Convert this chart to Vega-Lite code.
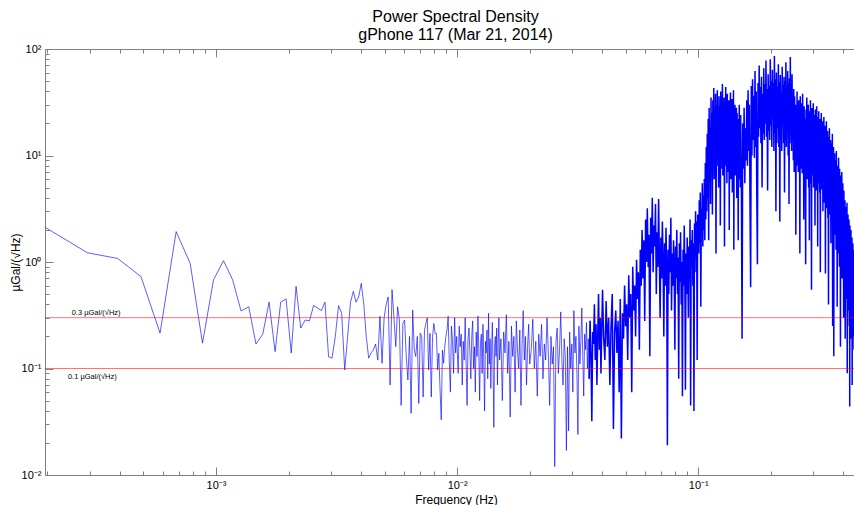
{
"$schema": "https://vega.github.io/schema/vega-lite/v6.json",
"autosize": {"type": "none"},
"padding": {"left": 45, "top": 49, "right": 0, "bottom": 30},
"width": 809,
"height": 426,
"background": "white",
"config": {"view": {"stroke": null}, "font": "Liberation Sans"},
"title": {"text": ["Power Spectral Density", "gPhone 117 (Mar 21, 2014)"], "fontSize": 16, "fontWeight": "normal", "font": "Liberation Sans", "color": "#000000", "lineHeight": 18, "offset": 0, "dx": 6, "anchor": "middle"},
"datasets": {
"psd": [
{"f":0.0001953,"a":2.12},{"f":0.000293,"a":1.22},{"f":0.0003906,"a":1.08},{"f":0.0004883,"a":0.73},{"f":0.000586,"a":0.215},{"f":0.0006836,"a":1.93},{"f":0.0007813,"a":0.97},{"f":0.000879,"a":0.173},{"f":0.0009766,"a":0.68},{"f":0.001074,"a":1.03},{"f":0.001172,"a":0.68},{"f":0.00127,"a":0.347},{"f":0.001367,"a":0.38},{"f":0.001465,"a":0.17},{"f":0.001563,"a":0.21},{"f":0.00166,"a":0.42},{"f":0.001758,"a":0.144},{"f":0.001855,"a":0.42},{"f":0.001953,"a":0.45},{"f":0.002051,"a":0.14},{"f":0.002148,"a":0.59},{"f":0.002246,"a":0.24},{"f":0.002344,"a":0.285},{"f":0.002441,"a":0.28},{"f":0.002539,"a":0.39},{"f":0.002637,"a":0.37},{"f":0.002734,"a":0.35},{"f":0.002832,"a":0.42},{"f":0.00293,"a":0.129},{"f":0.003027,"a":0.125},{"f":0.003125,"a":0.2},{"f":0.003223,"a":0.39},{"f":0.00332,"a":0.33},{"f":0.003418,"a":0.097},{"f":0.003516,"a":0.2},{"f":0.003613,"a":0.42},{"f":0.003711,"a":0.53},{"f":0.003809,"a":0.42},{"f":0.003906,"a":0.47},{"f":0.004004,"a":0.63},{"f":0.004102,"a":0.4},{"f":0.004199,"a":0.2},{"f":0.004297,"a":0.125},{"f":0.004395,"a":0.14},{"f":0.004492,"a":0.149},{"f":0.00459,"a":0.17},{"f":0.004688,"a":0.12},{"f":0.004785,"a":0.31},{"f":0.004883,"a":0.112},{"f":0.00498,"a":0.3},{"f":0.005078,"a":0.4},{"f":0.005176,"a":0.47},{"f":0.005273,"a":0.07},{"f":0.005371,"a":0.55},{"f":0.005469,"a":0.3},{"f":0.005566,"a":0.16},{"f":0.005664,"a":0.38},
{"f":0.005762,"a":0.285},{"f":0.005859,"a":0.045},{"f":0.005957,"a":0.265},{"f":0.006055,"a":0.285},{"f":0.006152,"a":0.13},{"f":0.00625,"a":0.078},{"f":0.006348,"a":0.2},{"f":0.006445,"a":0.038},{"f":0.006543,"a":0.354},{"f":0.006641,"a":0.15},{"f":0.006738,"a":0.13},{"f":0.006836,"a":0.2},{"f":0.006934,"a":0.047},{"f":0.007031,"a":0.214},{"f":0.007129,"a":0.2},{"f":0.007227,"a":0.054},{"f":0.007324,"a":0.23},{"f":0.007422,"a":0.265},{"f":0.00752,"a":0.3},{"f":0.007617,"a":0.097},{"f":0.007715,"a":0.214},{"f":0.007813,"a":0.054},{"f":0.00791,"a":0.2},{"f":0.008008,"a":0.265},{"f":0.008105,"a":0.214},{"f":0.008203,"a":0.214},{"f":0.008301,"a":0.097},{"f":0.008398,"a":0.139},{"f":0.008496,"a":0.063},{"f":0.008594,"a":0.033},{"f":0.008691,"a":0.149},{"f":0.008789,"a":0.112},{"f":0.008887,"a":0.16},{"f":0.008984,"a":0.2},{"f":0.009082,"a":0.23},{"f":0.00918,"a":0.31},{"f":0.009277,"a":0.12},{"f":0.009375,"a":0.06},{"f":0.009473,"a":0.25},{"f":0.00957,"a":0.18},{"f":0.009668,"a":0.09},{"f":0.009766,"a":0.3},{"f":0.009863,"a":0.14},{"f":0.009961,"a":0.2},
{"f":0.0101,"a":0.09},{"f":0.0102,"a":0.25},{"f":0.0103,"a":0.16},{"f":0.0104,"a":0.21},{"f":0.0105,"a":0.07},{"f":0.0106,"a":0.18},{"f":0.0107,"a":0.12},{"f":0.0108,"a":0.3},{"f":0.0109,"a":0.11},{"f":0.011,"a":0.045},{"f":0.0111,"a":0.19},{"f":0.0112,"a":0.24},{"f":0.0113,"a":0.14},{"f":0.0114,"a":0.08},{"f":0.0115,"a":0.2},{"f":0.0116,"a":0.28},{"f":0.0117,"a":0.1},{"f":0.0118,"a":0.16},{"f":0.0119,"a":0.06},{"f":0.012,"a":0.22},{"f":0.0121,"a":0.13},{"f":0.0122,"a":0.31},{"f":0.0123,"a":0.15},{"f":0.0124,"a":0.05},{"f":0.0125,"a":0.17},{"f":0.0126,"a":0.21},{"f":0.0127,"a":0.09},{"f":0.0128,"a":0.26},{"f":0.0129,"a":0.12},{"f":0.013,"a":0.04},{"f":0.0131,"a":0.18},{"f":0.0132,"a":0.14},{"f":0.0133,"a":0.23},{"f":0.0134,"a":0.08},{"f":0.0135,"a":0.33},{"f":0.0136,"a":0.11},{"f":0.0137,"a":0.19},{"f":0.0138,"a":0.065},{"f":0.0139,"a":0.15},{"f":0.014,"a":0.27},{"f":0.0141,"a":0.1},{"f":0.0142,"a":0.028},{"f":0.0143,"a":0.16},{"f":0.0144,"a":0.2},{"f":0.0145,"a":0.13},{"f":0.0146,"a":0.24},{"f":0.0147,"a":0.07},{"f":0.0148,"a":0.17},{"f":0.0149,"a":0.3},{"f":0.015,"a":0.12},
{"f":0.0152,"a":0.19},{"f":0.0154,"a":0.05},{"f":0.0156,"a":0.22},{"f":0.0158,"a":0.14},{"f":0.016,"a":0.32},{"f":0.0162,"a":0.09},{"f":0.0164,"a":0.18},{"f":0.0166,"a":0.035},{"f":0.0168,"a":0.25},{"f":0.017,"a":0.13},{"f":0.0172,"a":0.2},{"f":0.0174,"a":0.06},{"f":0.0176,"a":0.28},{"f":0.0178,"a":0.15},{"f":0.018,"a":0.1},{"f":0.0182,"a":0.23},{"f":0.0184,"a":0.045},{"f":0.0186,"a":0.17},{"f":0.0188,"a":0.35},{"f":0.019,"a":0.12},{"f":0.0192,"a":0.2},{"f":0.0194,"a":0.07},{"f":0.0196,"a":0.16},{"f":0.0198,"a":0.26},{"f":0.02,"a":0.11},
{"f":0.0203,"a":0.15},{"f":0.0206,"a":0.29},{"f":0.0209,"a":0.1},{"f":0.0212,"a":0.18},{"f":0.0215,"a":0.055},{"f":0.0218,"a":0.21},{"f":0.0221,"a":0.13},{"f":0.0224,"a":0.26},{"f":0.0227,"a":0.08},{"f":0.023,"a":0.17},{"f":0.0233,"a":0.12},{"f":0.0236,"a":0.3},{"f":0.0239,"a":0.14},{"f":0.0242,"a":0.045},{"f":0.0245,"a":0.2},{"f":0.0248,"a":0.11},{"f":0.0251,"a":0.16},{"f":0.0254,"a":0.012},{"f":0.0257,"a":0.18},{"f":0.026,"a":0.24},{"f":0.0263,"a":0.09},{"f":0.0266,"a":0.15},{"f":0.0269,"a":0.34},{"f":0.0272,"a":0.12},{"f":0.0275,"a":0.07},{"f":0.0278,"a":0.19},{"f":0.0281,"a":0.13},{"f":0.0284,"a":0.017},{"f":0.0287,"a":0.16},{"f":0.029,"a":0.026},{"f":0.0293,"a":0.22},{"f":0.0296,"a":0.1},{"f":0.0299,"a":0.17},{"f":0.0302,"a":0.06},{"f":0.0305,"a":0.35},{"f":0.0308,"a":0.14},{"f":0.0311,"a":0.2},{"f":0.0314,"a":0.09},{"f":0.0317,"a":0.024},{"f":0.032,"a":0.25},{"f":0.0323,"a":0.11},{"f":0.0326,"a":0.18},{"f":0.0329,"a":0.37},{"f":0.0332,"a":0.13},{"f":0.0335,"a":0.055},{"f":0.0338,"a":0.21},{"f":0.0341,"a":0.15},{"f":0.0344,"a":0.27},{"f":0.0347,"a":0.1},{"f":0.035,"a":0.19},{"f":0.0353,"a":0.08},{"f":0.0356,"a":0.28},{"f":0.0359,"a":0.14},{"f":0.0362,"a":0.032},{"f":0.0365,"a":0.22},{"f":0.0368,"a":0.17},{"f":0.0371,"a":0.4},{"f":0.0374,"a":0.12},{"f":0.0377,"a":0.26},{"f":0.038,"a":0.07},{"f":0.0383,"a":0.2},{"f":0.0386,"a":0.5},{"f":0.0389,"a":0.15},{"f":0.0392,"a":0.3},{"f":0.0395,"a":0.09},{"f":0.0398,"a":0.24},{"f":0.0401,"a":0.55},
{"f":0.0405,"a":0.2},{"f":0.041,"a":0.12},{"f":0.0415,"a":0.43},{"f":0.042,"a":0.16},{"f":0.0425,"a":0.3},{"f":0.043,"a":0.07},{"f":0.0435,"a":0.25},{"f":0.044,"a":0.5},{"f":0.0445,"a":0.027},{"f":0.045,"a":0.22},{"f":0.0455,"a":0.35},{"f":0.046,"a":0.14},{"f":0.0465,"a":0.28},{"f":0.047,"a":0.06},{"f":0.0475,"a":0.45},{"f":0.048,"a":0.022},{"f":0.0485,"a":0.33},{"f":0.049,"a":0.19},{"f":0.0495,"a":0.6},{"f":0.05,"a":0.25},{"f":0.0505,"a":0.4},{"f":0.051,"a":0.12},{"f":0.0515,"a":0.75},{"f":0.052,"a":0.3},{"f":0.0525,"a":0.5},{"f":0.053,"a":0.06},{"f":0.0535,"a":0.9},{"f":0.054,"a":0.35},{"f":0.0545,"a":0.6},{"f":0.055,"a":0.2},{"f":0.0555,"a":1.05},{"f":0.056,"a":0.45},{"f":0.0565,"a":0.8},{"f":0.057,"a":0.15},{"f":0.0575,"a":1.3},{"f":0.058,"a":0.6},{"f":0.0585,"a":2.0},{"f":0.059,"a":0.7},{"f":0.0595,"a":1.6},{"f":0.06,"a":0.28},{"f":0.0605,"a":2.5},{"f":0.061,"a":1.0},{"f":0.0615,"a":3.2},{"f":0.062,"a":0.9},{"f":0.0625,"a":1.8},{"f":0.063,"a":0.13},{"f":0.0635,"a":2.6},{"f":0.064,"a":1.2},{"f":0.0645,"a":4.0},{"f":0.065,"a":0.8},{"f":0.0655,"a":2.2},{"f":0.066,"a":1.4},{"f":0.0665,"a":3.5},{"f":0.067,"a":0.5},{"f":0.0675,"a":1.9},{"f":0.068,"a":0.9},{"f":0.0685,"a":3.9},{"f":0.069,"a":1.1},{"f":0.0695,"a":0.3},{"f":0.07,"a":1.7},{"f":0.0705,"a":0.7},{"f":0.071,"a":2.4},{"f":0.0715,"a":1.0},{"f":0.072,"a":0.2},{"f":0.0725,"a":1.5},{"f":0.073,"a":0.6},{"f":0.0735,"a":2.1},{"f":0.074,"a":0.9},{"f":0.0745,"a":0.019},{"f":0.075,"a":1.3},{"f":0.0755,"a":0.5},{"f":0.076,"a":1.8},{"f":0.0765,"a":0.8},{"f":0.077,"a":2.6},{"f":0.0775,"a":0.35},{"f":0.078,"a":1.2},{"f":0.0785,"a":0.6},{"f":0.079,"a":1.6},{"f":0.0795,"a":0.9},{"f":0.08,"a":0.15},{"f":0.0805,"a":1.4},{"f":0.081,"a":0.7},{"f":0.0815,"a":2.0},{"f":0.082,"a":0.5},{"f":0.0825,"a":1.1},{"f":0.083,"a":0.08},{"f":0.0835,"a":1.5},{"f":0.084,"a":0.65},{"f":0.0845,"a":1.9},{"f":0.085,"a":0.4},{"f":0.0855,"a":1.0},{"f":0.086,"a":0.055},{"f":0.0865,"a":1.3},{"f":0.087,"a":0.6},{"f":0.0875,"a":2.2},{"f":0.088,"a":0.8},{"f":0.0885,"a":0.063},{"f":0.089,"a":1.2},{"f":0.0895,"a":0.5},{"f":0.09,"a":1.7},{"f":0.0905,"a":0.9},{"f":0.091,"a":0.3},{"f":0.0915,"a":1.4},{"f":0.092,"a":0.7},{"f":0.0925,"a":2.5},{"f":0.093,"a":0.045},{"f":0.0935,"a":1.6},{"f":0.094,"a":0.9},{"f":0.0945,"a":2.0},{"f":0.095,"a":0.6},{"f":0.0955,"a":1.5},{"f":0.096,"a":0.04},{"f":0.0965,"a":2.3},{"f":0.097,"a":1.1},{"f":0.0975,"a":3.0},{"f":0.098,"a":0.8},{"f":0.0985,"a":2.4},{"f":0.099,"a":0.12},{"f":0.0995,"a":2.8},{"f":0.1,"a":1.6},
{"f":0.1005,"a":1.2},{"f":0.101,"a":3.8},{"f":0.1015,"a":1.5},{"f":0.102,"a":4.5},{"f":0.1025,"a":0.38},{"f":0.103,"a":3.2},{"f":0.1035,"a":1.9},{"f":0.104,"a":5.5},{"f":0.1045,"a":1.4},{"f":0.105,"a":4.2},{"f":0.1055,"a":2.0},{"f":0.106,"a":6.0},{"f":0.1065,"a":1.6},{"f":0.107,"a":8.5},{"f":0.1075,"a":2.5},{"f":0.108,"a":12},{"f":0.1085,"a":3.0},{"f":0.109,"a":16},{"f":0.1095,"a":4.0},{"f":0.11,"a":22},{"f":0.1105,"a":1.6},{"f":0.111,"a":28},{"f":0.1115,"a":5.5},{"f":0.112,"a":18},{"f":0.1125,"a":3.5},{"f":0.113,"a":35},{"f":0.1135,"a":7},{"f":0.114,"a":25},{"f":0.1145,"a":2.8},{"f":0.115,"a":33},{"f":0.1155,"a":9},{"f":0.116,"a":43},{"f":0.1165,"a":6},{"f":0.117,"a":27},{"f":0.1175,"a":12},{"f":0.118,"a":38},{"f":0.1185,"a":1.2},{"f":0.119,"a":30},{"f":0.1195,"a":8},{"f":0.12,"a":41},{"f":0.1205,"a":10},{"f":0.121,"a":24},{"f":0.1215,"a":5},{"f":0.122,"a":36},{"f":0.1225,"a":14},{"f":0.123,"a":29},{"f":0.1235,"a":2.2},{"f":0.124,"a":40},{"f":0.1245,"a":7.5},{"f":0.125,"a":31},{"f":0.1255,"a":11},{"f":0.126,"a":47},{"f":0.1265,"a":6.5},{"f":0.127,"a":22},{"f":0.1275,"a":13},{"f":0.128,"a":35},{"f":0.1285,"a":1.4},{"f":0.129,"a":28},{"f":0.1295,"a":8},{"f":0.13,"a":44},{"f":0.1305,"a":9.5},{"f":0.131,"a":26},{"f":0.1315,"a":5.5},{"f":0.132,"a":38},{"f":0.1325,"a":12},{"f":0.133,"a":21},{"f":0.1335,"a":7},{"f":0.134,"a":33},{"f":0.1345,"a":2.0},{"f":0.135,"a":29},{"f":0.1355,"a":10},{"f":0.136,"a":39},{"f":0.1365,"a":6},{"f":0.137,"a":24},{"f":0.1375,"a":15},{"f":0.138,"a":34},{"f":0.1385,"a":4.5},{"f":0.139,"a":27},{"f":0.1395,"a":8.5},{"f":0.14,"a":41},{"f":0.1405,"a":1.3},{"f":0.141,"a":23},{"f":0.1415,"a":9},{"f":0.142,"a":30},{"f":0.1425,"a":6.5},{"f":0.143,"a":20},{"f":0.1435,"a":11},{"f":0.144,"a":28},{"f":0.1445,"a":4},{"f":0.145,"a":25},{"f":0.1455,"a":7},{"f":0.146,"a":19},{"f":0.1465,"a":1.6},{"f":0.147,"a":22},{"f":0.1475,"a":6},{"f":0.148,"a":30},{"f":0.1485,"a":8},{"f":0.149,"a":17},{"f":0.1495,"a":5},{"f":0.15,"a":24},
{"f":0.151,"a":6},{"f":0.152,"a":0.19},{"f":0.153,"a":20},{"f":0.154,"a":7.5},{"f":0.155,"a":28},{"f":0.156,"a":5.5},{"f":0.157,"a":18},{"f":0.158,"a":9},{"f":0.159,"a":33},{"f":0.16,"a":8},{"f":0.161,"a":41},{"f":0.162,"a":11},{"f":0.163,"a":30},{"f":0.164,"a":3.3},{"f":0.165,"a":0.58},{"f":0.166,"a":45},{"f":0.167,"a":10},{"f":0.168,"a":52},{"f":0.169,"a":14},{"f":0.17,"a":36},{"f":0.171,"a":9.5},{"f":0.172,"a":62},{"f":0.173,"a":12},{"f":0.174,"a":40},{"f":0.175,"a":4},{"f":0.176,"a":0.95},{"f":0.177,"a":48},{"f":0.178,"a":15},{"f":0.179,"a":70},{"f":0.18,"a":18},{"f":0.181,"a":44},{"f":0.182,"a":13},{"f":0.183,"a":55},{"f":0.184,"a":5},{"f":0.185,"a":38},{"f":0.186,"a":16},{"f":0.187,"a":66},{"f":0.188,"a":14},{"f":0.189,"a":47},{"f":0.19,"a":20},{"f":0.191,"a":78},{"f":0.192,"a":15},{"f":0.193,"a":42},{"f":0.194,"a":4.7},{"f":0.195,"a":58},{"f":0.196,"a":17},{"f":0.197,"a":45},{"f":0.198,"a":14},{"f":0.199,"a":80},{"f":0.2,"a":19},{"f":0.201,"a":50},{"f":0.202,"a":12},{"f":0.203,"a":64},{"f":0.204,"a":22},{"f":0.205,"a":48},{"f":0.206,"a":11},{"f":0.207,"a":86},{"f":0.208,"a":16},{"f":0.209,"a":52},{"f":0.21,"a":3.0},{"f":0.211,"a":60},{"f":0.212,"a":13},{"f":0.213,"a":44},{"f":0.214,"a":18},{"f":0.215,"a":72},{"f":0.216,"a":12},{"f":0.217,"a":49},{"f":0.218,"a":2.4},{"f":0.219,"a":57},{"f":0.22,"a":15},{"f":0.221,"a":40},{"f":0.222,"a":11},{"f":0.223,"a":68},{"f":0.224,"a":20},{"f":0.225,"a":46},{"f":0.226,"a":13},{"f":0.227,"a":55},{"f":0.228,"a":4.5},{"f":0.229,"a":50},{"f":0.23,"a":14},{"f":0.231,"a":75},{"f":0.232,"a":12},{"f":0.233,"a":42},{"f":0.234,"a":17},{"f":0.235,"a":62},{"f":0.236,"a":10},{"f":0.237,"a":48},{"f":0.238,"a":3.5},{"f":0.239,"a":53},{"f":0.24,"a":13},{"f":0.241,"a":84},{"f":0.242,"a":16},{"f":0.243,"a":45},{"f":0.244,"a":11},{"f":0.245,"a":58},{"f":0.246,"a":14},{"f":0.247,"a":38},{"f":0.248,"a":9},{"f":0.249,"a":42},{"f":0.25,"a":7},{"f":0.251,"a":36},{"f":0.252,"a":12},{"f":0.253,"a":30},{"f":0.254,"a":1.8},{"f":0.255,"a":27},{"f":0.256,"a":8},{"f":0.257,"a":40},{"f":0.258,"a":10},{"f":0.259,"a":25},{"f":0.26,"a":7},{"f":0.261,"a":33},{"f":0.262,"a":9},{"f":0.263,"a":28},{"f":0.264,"a":1.2},{"f":0.265,"a":36},{"f":0.266,"a":7.5},{"f":0.267,"a":24},{"f":0.268,"a":11},{"f":0.269,"a":31},{"f":0.27,"a":6.8},{"f":0.271,"a":38},{"f":0.272,"a":8},{"f":0.273,"a":26},{"f":0.274,"a":2.5},{"f":0.275,"a":29},{"f":0.276,"a":9},{"f":0.277,"a":22},{"f":0.278,"a":7},{"f":0.279,"a":0.95},{"f":0.28,"a":27},{"f":0.281,"a":8},{"f":0.282,"a":35},{"f":0.283,"a":6},{"f":0.284,"a":24},{"f":0.285,"a":9.5},{"f":0.286,"a":30},{"f":0.287,"a":5},{"f":0.288,"a":21},{"f":0.289,"a":1.6},{"f":0.29,"a":26},{"f":0.291,"a":7},{"f":0.292,"a":33},{"f":0.293,"a":5.5},{"f":0.294,"a":23},{"f":0.295,"a":0.55},{"f":0.296,"a":28},{"f":0.297,"a":6.5},{"f":0.298,"a":20},{"f":0.299,"a":8},{"f":0.3,"a":31},{"f":0.301,"a":5},{"f":0.302,"a":24},{"f":0.303,"a":7.5},{"f":0.304,"a":18},{"f":0.305,"a":2.2},{"f":0.306,"a":27},{"f":0.307,"a":6},{"f":0.308,"a":21},{"f":0.309,"a":4.7},{"f":0.31,"a":29},{"f":0.311,"a":7},{"f":0.312,"a":19},{"f":0.313,"a":1.4},{"f":0.314,"a":23},{"f":0.315,"a":5.5},{"f":0.316,"a":26},{"f":0.317,"a":6.5},{"f":0.318,"a":17},{"f":0.319,"a":4.5},{"f":0.32,"a":22},{"f":0.321,"a":0.8},{"f":0.322,"a":20},{"f":0.323,"a":6},{"f":0.324,"a":25},{"f":0.325,"a":4.8},{"f":0.326,"a":18},{"f":0.327,"a":6.5},{"f":0.328,"a":21},{"f":0.329,"a":3},{"f":0.33,"a":16},{"f":0.331,"a":5},{"f":0.332,"a":23},{"f":0.333,"a":3.6},{"f":0.334,"a":15},{"f":0.335,"a":5.5},{"f":0.336,"a":19},{"f":0.337,"a":0.78},{"f":0.338,"a":14},{"f":0.339,"a":4},{"f":0.34,"a":21},{"f":0.341,"a":3.2},{"f":0.342,"a":13},{"f":0.343,"a":4.5},{"f":0.344,"a":17},{"f":0.345,"a":2.6},{"f":0.346,"a":12},{"f":0.347,"a":0.4},{"f":0.348,"a":15},{"f":0.349,"a":3.5},{"f":0.35,"a":18},{"f":0.351,"a":2.8},{"f":0.352,"a":11},{"f":0.353,"a":4},{"f":0.354,"a":14},{"f":0.355,"a":1.5},{"f":0.356,"a":10},{"f":0.357,"a":3.3},{"f":0.358,"a":13},{"f":0.359,"a":2.4},{"f":0.36,"a":16},{"f":0.361,"a":0.25},{"f":0.362,"a":9.5},{"f":0.363,"a":3},{"f":0.364,"a":12},{"f":0.365,"a":0.13},{"f":0.366,"a":8},{"f":0.367,"a":2.2},{"f":0.368,"a":10.5},{"f":0.369,"a":1.8},{"f":0.37,"a":7.5},{"f":0.371,"a":2.6},{"f":0.372,"a":9},{"f":0.373,"a":1.3},{"f":0.374,"a":11},{"f":0.375,"a":2},{"f":0.376,"a":6.5},{"f":0.377,"a":0.38},{"f":0.378,"a":8},{"f":0.379,"a":1.6},{"f":0.38,"a":7},{"f":0.381,"a":2.1},{"f":0.382,"a":9.5},{"f":0.383,"a":1.2},{"f":0.384,"a":6},{"f":0.385,"a":0.9},{"f":0.386,"a":7.5},{"f":0.387,"a":1.5},{"f":0.388,"a":5.5},{"f":0.389,"a":0.16},{"f":0.39,"a":6.5},{"f":0.391,"a":1.1},{"f":0.392,"a":5},{"f":0.393,"a":1.7},{"f":0.394,"a":7},{"f":0.395,"a":0.7},{"f":0.396,"a":4.5},{"f":0.397,"a":1.3},{"f":0.398,"a":5.5},{"f":0.399,"a":0.85},{"f":0.4,"a":4},{"f":0.401,"a":0.3},{"f":0.402,"a":4.7},{"f":0.403,"a":0.9},{"f":0.404,"a":3.5},{"f":0.405,"a":0.6},{"f":0.406,"a":3.8},{"f":0.407,"a":0.19},{"f":0.408,"a":3},{"f":0.409,"a":0.7},{"f":0.41,"a":3.3},{"f":0.411,"a":0.45},{"f":0.412,"a":2.6},{"f":0.413,"a":0.8},{"f":0.414,"a":3.6},{"f":0.415,"a":0.09},{"f":0.416,"a":2.4},{"f":0.417,"a":0.5},{"f":0.418,"a":2.8},{"f":0.419,"a":0.35},{"f":0.42,"a":2},{"f":0.421,"a":0.6},{"f":0.422,"a":2.5},{"f":0.423,"a":0.25},{"f":0.424,"a":1.8},{"f":0.425,"a":0.044},{"f":0.426,"a":2.2},{"f":0.427,"a":0.4},{"f":0.428,"a":1.6},{"f":0.429,"a":0.3},{"f":0.43,"a":2},{"f":0.431,"a":0.19},{"f":0.432,"a":1.4},{"f":0.433,"a":0.5},{"f":0.434,"a":1.7},{"f":0.435,"a":0.07},{"f":0.436,"a":1.2},{"f":0.437,"a":0.35},{"f":0.438,"a":1.5},{"f":0.439,"a":0.2},{"f":0.44,"a":1.1},{"f":0.441,"a":0.45},{"f":0.442,"a":1.3},{"f":0.443,"a":0.15},{"f":0.444,"a":1},{"f":0.445,"a":0.3}
],
"levels": [{"level": 0.3}, {"level": 0.1}],
"notes": [{"f": 0.000252, "a": 0.33, "label": "0.3 µGal/(√Hz)"}, {"f": 0.000243, "a": 0.0838, "label": "0.1 µGal/(√Hz)"}]
},
"layer": [
{
"data": {"name": "psd"},
"transform": [{"filter": "datum.f <= 0.0356"}],
"mark": {"type": "line", "color": "#0000ff", "strokeWidth": 0.75, "opacity": 0.85, "clip": true},
"encoding": {
"x": {"field": "f", "type": "quantitative",
"scale": {"type": "log", "domain": [0.0001953, 0.4427], "nice": false},
"axis": {"orient": "bottom", "title": "Frequency (Hz)", "titleFont": "Liberation Sans", "titleFontSize": 12, "titleFontWeight": "normal", "titleColor": "#000000", "titleX": 411, "titlePadding": 0,
"values": [0.0002,0.0003,0.0004,0.0005,0.0006,0.0007,0.0008,0.0009,0.001,0.002,0.003,0.004,0.005,0.006,0.007,0.008,0.009,0.01,0.02,0.03,0.04,0.05,0.06,0.07,0.08,0.09,0.1,0.2,0.3,0.4],
"labelExpr": "abs(log(datum.value)/LN10 - round(log(datum.value)/LN10)) < 0.01 ? '10' + (round(log(datum.value)/LN10) < 0 ? '⁻' : '') + ['⁰','¹','²','³','⁴'][abs(round(log(datum.value)/LN10))] : ''",
"tickSize": {"condition": {"test": "abs(log(datum.value)/LN10 - round(log(datum.value)/LN10)) < 0.01", "value": -8}, "value": -4},
"labelPadding": 12, "labelFontSize": 11, "labelFont": "Liberation Sans", "labelColor": "#000000", "labelFlush": false, "labelOverlap": false,
"domainColor": "#808080", "tickColor": "#808080", "grid": false}},
"y": {"field": "a", "type": "quantitative",
"scale": {"type": "log", "domain": [0.01, 100], "nice": false},
"axis": {"orient": "left", "title": "µGal/(√Hz)", "titleFont": "Liberation Sans", "titleFontSize": 12, "titleFontWeight": "normal", "titleColor": "#000000", "titlePadding": -1,
"values": [0.01,0.02,0.03,0.04,0.05,0.06,0.07,0.08,0.09,0.1,0.2,0.3,0.4,0.5,0.6,0.7,0.8,0.9,1,2,3,4,5,6,7,8,9,10,20,30,40,50,60,70,80,90,100],
"labelExpr": "abs(log(datum.value)/LN10 - round(log(datum.value)/LN10)) < 0.01 ? '10' + (round(log(datum.value)/LN10) < 0 ? '⁻' : '') + ['⁰','¹','²','³','⁴'][abs(round(log(datum.value)/LN10))] : ''",
"tickSize": {"condition": {"test": "abs(log(datum.value)/LN10 - round(log(datum.value)/LN10)) < 0.01", "value": -8}, "value": -4},
"labelPadding": 12, "labelFontSize": 11, "labelFont": "Liberation Sans", "labelColor": "#000000", "labelFlush": false, "labelOverlap": false,
"domainColor": "#808080", "tickColor": "#808080", "grid": false}}
}
},
{
"data": {"name": "psd"},
"transform": [{"filter": "datum.f >= 0.0353"}],
"mark": {"type": "line", "color": "#0000ff", "strokeWidth": 1.5, "clip": true},
"encoding": {
"x": {"field": "f", "type": "quantitative", "axis": null},
"y": {"field": "a", "type": "quantitative"}
}
},
{
"data": {"name": "levels"},
"mark": {"type": "rule", "color": "#ff0000", "strokeWidth": 1, "opacity": 0.55},
"encoding": {"y": {"field": "level", "type": "quantitative"}}
},
{
"data": {"name": "notes"},
"mark": {"type": "text", "align": "left", "baseline": "middle", "fontSize": 7.5, "font": "Liberation Sans", "color": "#000000"},
"encoding": {
"x": {"field": "f", "type": "quantitative",
"axis": {"orient": "top", "title": null, "labels": false,
"values": [0.0002,0.0003,0.0004,0.0005,0.0006,0.0007,0.0008,0.0009,0.001,0.002,0.003,0.004,0.005,0.006,0.007,0.008,0.009,0.01,0.02,0.03,0.04,0.05,0.06,0.07,0.08,0.09,0.1,0.2,0.3,0.4],
"tickSize": {"condition": {"test": "abs(log(datum.value)/LN10 - round(log(datum.value)/LN10)) < 0.01", "value": -8}, "value": -4},
"domainColor": "#808080", "tickColor": "#808080", "grid": false}},
"y": {"field": "a", "type": "quantitative"},
"text": {"field": "label"}
}
}
],
"resolve": {"axis": {"x": "independent"}}
}
